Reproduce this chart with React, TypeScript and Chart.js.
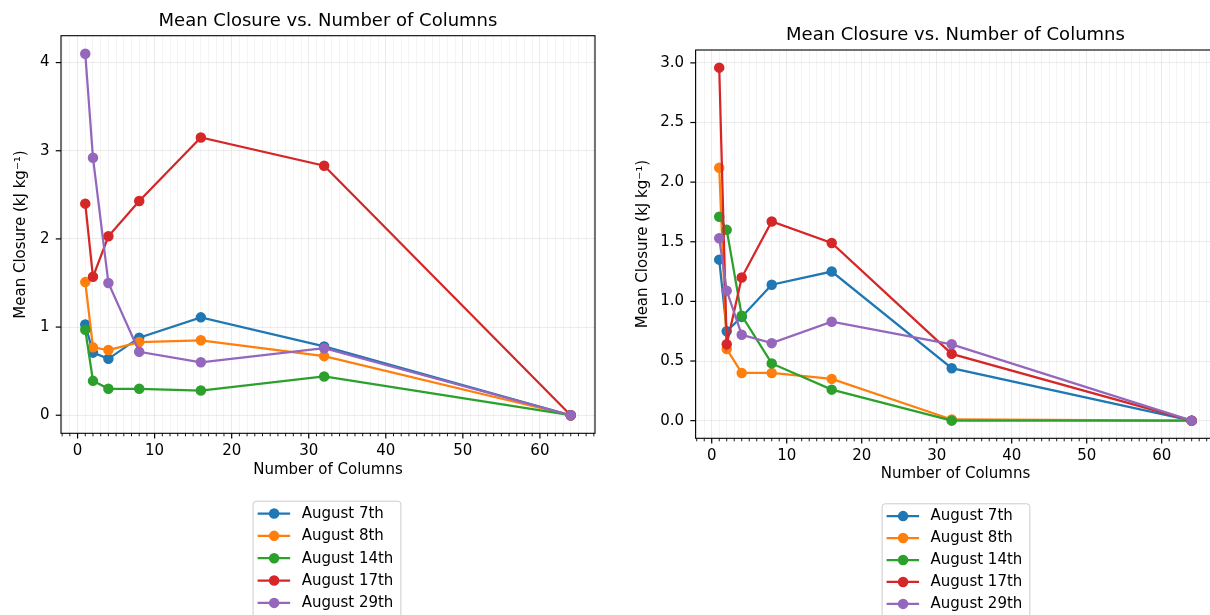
import React, { useEffect, useRef } from "react";
import { Chart, registerables } from "chart.js";

Chart.register(...registerables);

// ---------------- data ----------------
const columns = [1, 2, 4, 8, 16, 32, 64];
const seriesLabels = ["August 7th", "August 8th", "August 14th", "August 17th", "August 29th"];
const seriesColors = ["#1f77b4", "#ff7f0e", "#2ca02c", "#d62728", "#9467bd"];

// left panel
const leftAug7 = [1.03, 0.71, 0.64, 0.88, 1.11, 0.78, 0.0];
const leftAug8 = [1.51, 0.77, 0.74, 0.83, 0.85, 0.67, 0.0];
const leftAug14 = [0.97, 0.39, 0.3, 0.3, 0.28, 0.44, 0.0];
const leftAug17 = [2.4, 1.57, 2.03, 2.43, 3.15, 2.83, 0.0];
const leftAug29 = [4.1, 2.92, 1.5, 0.72, 0.6, 0.76, 0.0];

// right panel
const rightAug7 = [1.35, 0.75, 0.87, 1.14, 1.25, 0.44, 0.0];
const rightAug8 = [2.12, 0.6, 0.4, 0.4, 0.35, 0.01, 0.0];
const rightAug14 = [1.71, 1.6, 0.88, 0.48, 0.26, 0.0, 0.0];
const rightAug17 = [2.96, 0.64, 1.2, 1.67, 1.49, 0.56, 0.0];
const rightAug29 = [1.53, 1.09, 0.72, 0.65, 0.83, 0.64, 0.0];

const titleText = "Mean Closure vs. Number of Columns";
const xLabel = "Number of Columns";
const yLabel = "Mean Closure (kJ kg\u207B\u00B9)";

const leftYStep = 1;
const leftYDecimals = 0;
const rightYStep = 0.5;
const rightYDecimals = 1;
const xMajorStep = 10;
const xMinorStep = 1;

// ---------------- styling ----------------
const FONT = "'DejaVu Sans', 'Noto Sans', sans-serif";
const FS_TITLE = 18;
const FS = 15;
const LINE_W = 2.25;
const PT_R = 4.5;
const PT_BORDER = 1.5;
const GRID_MAJOR = "rgba(176,176,176,0.32)";
const GRID_MINOR = "rgba(176,176,176,0.18)";
const CANVAS_H = 615;

interface PanelLayout {
  canvasLeft: number;
  canvasWidth: number;
  area: { left: number; top: number; right: number; bottom: number };
  titleCenterY: number;
  xLabelCenterY: number;
  yLabelCenterX: number;
  legendTop: number;
  legendDx: number;
  legendRow: number;
}

const leftLayout: PanelLayout = {
  canvasLeft: 0,
  canvasWidth: 610,
  area: { left: 61, top: 35.7, right: 595, bottom: 433.3 },
  titleCenterY: 21,
  xLabelCenterY: 470.5,
  yLabelCenterX: 21,
  legendTop: 500.7,
  legendDx: -1.5,
  legendRow: 22.35,
};

const rightLayout: PanelLayout = {
  canvasLeft: 610,
  canvasWidth: 620,
  area: { left: 85.6, top: 50, right: 605.3, bottom: 438.3 },
  titleCenterY: 35.5,
  xLabelCenterY: 474.5,
  yLabelCenterX: 33,
  legendTop: 503.3,
  legendDx: 0,
  legendRow: 21.95,
};

function autoRange(vals: number[]): [number, number] {
  const mn = Math.min(...vals);
  const mx = Math.max(...vals);
  const m = (mx - mn) * 0.05;
  return [mn - m, mx + m];
}

const decorPlugin = {
  id: "mplDecor",
  afterDatasetsDraw(chart: any) {
    const { ctx, chartArea: a } = chart;
    const xs = chart.scales.x;
    const ys = chart.scales.y;
    ctx.save();
    // spines
    ctx.strokeStyle = "#000";
    ctx.lineWidth = 1.1;
    ctx.strokeRect(a.left, a.top, a.right - a.left, a.bottom - a.top);
    // x ticks
    xs.ticks.forEach((t: any) => {
      const px = xs.getPixelForValue(t.value);
      if (px < a.left - 0.5 || px > a.right + 0.5) return;
      const major = Math.round(t.value) % xMajorStep === 0;
      ctx.lineWidth = major ? 1.2 : 0.9;
      ctx.beginPath();
      ctx.moveTo(px, a.bottom);
      ctx.lineTo(px, a.bottom + (major ? 5.25 : 3));
      ctx.stroke();
    });
    // y ticks
    ys.ticks.forEach((t: any) => {
      const py = ys.getPixelForValue(t.value);
      if (py < a.top - 0.5 || py > a.bottom + 0.5) return;
      ctx.lineWidth = 1.2;
      ctx.beginPath();
      ctx.moveTo(a.left, py);
      ctx.lineTo(a.left - 5.25, py);
      ctx.stroke();
    });
    ctx.restore();
  },
  afterDraw(chart: any) {
    const opts = chart.options.plugins.mplDecor || {};
    const { ctx, chartArea: a } = chart;
    const ds = chart.data.datasets;
    ctx.save();
    ctx.font = `${FS}px ${FONT}`;
    const maxW = Math.max(...ds.map((d: any) => ctx.measureText(d.label).width));
    const boxW = maxW + 56;
    const cx = (a.left + a.right) / 2 + (opts.legendDx || 0);
    const x0 = cx - boxW / 2;
    const y0 = opts.legendTop;
    const row = opts.legendRow;
    const boxH = 12.8 * 2 + row * (ds.length - 1) + 4;
    // frame
    ctx.fillStyle = "rgba(255,255,255,0.8)";
    ctx.strokeStyle = "#cccccc";
    ctx.lineWidth = 1;
    ctx.beginPath();
    (ctx as any).roundRect(x0 + 0.5, y0 + 0.5, boxW, boxH, 3);
    ctx.fill();
    ctx.stroke();
    ds.forEach((d: any, i: number) => {
      const y = y0 + 12.8 + row * i;
      ctx.strokeStyle = d.borderColor;
      ctx.lineWidth = LINE_W;
      ctx.beginPath();
      ctx.moveTo(x0 + 5, y);
      ctx.lineTo(x0 + 37.5, y);
      ctx.stroke();
      ctx.fillStyle = d.borderColor;
      ctx.lineWidth = PT_BORDER;
      ctx.beginPath();
      ctx.arc(x0 + 21.5, y, PT_R, 0, Math.PI * 2);
      ctx.fill();
      ctx.stroke();
      ctx.fillStyle = "#000";
      ctx.textAlign = "left";
      ctx.textBaseline = "middle";
      ctx.fillText(d.label, x0 + 49, y + 0.5);
    });
    ctx.restore();
  },
};

function buildConfig(series: number[][], yStep: number, yDec: number, L: PanelLayout): any {
  const [xMin, xMax] = autoRange(columns);
  const [yMin, yMax] = autoRange(series.flat());
  const xAxisH = 50;
  const lhTitle = FS_TITLE * 1.2;
  const lh = FS * 1.2;
  const n = series.length;
  return {
    type: "line",
    data: {
      datasets: series.map((vals, i) => ({
        label: seriesLabels[i],
        data: columns.map((x, j) => ({ x, y: vals[j] })),
        borderColor: seriesColors[i],
        backgroundColor: seriesColors[i],
        pointBackgroundColor: seriesColors[i],
        pointBorderColor: seriesColors[i],
        borderWidth: LINE_W,
        pointRadius: PT_R,
        pointHoverRadius: PT_R,
        pointBorderWidth: PT_BORDER,
        tension: 0,
        fill: false,
        order: n - 1 - i,
      })),
    },
    options: {
      animation: false,
      responsive: false,
      maintainAspectRatio: false,
      devicePixelRatio: 1,
      events: [],
      layout: {
        padding: {
          left: 0,
          top: 0,
          right: L.canvasWidth - L.area.right,
          bottom: CANVAS_H - L.area.bottom - xAxisH,
        },
      },
      plugins: {
        legend: { display: false },
        tooltip: { enabled: false },
        title: {
          display: true,
          text: titleText,
          fullSize: false,
          color: "#000",
          font: { family: FONT, size: FS_TITLE, weight: "normal" },
          padding: {
            top: L.titleCenterY - lhTitle / 2,
            bottom: L.area.top - L.titleCenterY - lhTitle / 2,
          },
        },
        mplDecor: { legendTop: L.legendTop, legendDx: L.legendDx, legendRow: L.legendRow },
      },
      scales: {
        x: {
          type: "linear",
          min: xMin,
          max: xMax,
          afterFit: (s: any) => {
            s.height = xAxisH;
          },
          border: { display: false },
          grid: {
            color: (c: any) =>
              c.tick && Math.round(c.tick.value) % xMajorStep === 0 ? GRID_MAJOR : GRID_MINOR,
            lineWidth: 0.8,
            drawTicks: false,
          },
          ticks: {
            stepSize: xMinorStep,
            autoSkip: false,
            includeBounds: false,
            maxRotation: 0,
            minRotation: 0,
            padding: 8.8,
            color: "#000",
            font: { family: FONT, size: FS },
            callback: (v: number) => (Math.round(v) % xMajorStep === 0 ? String(Math.round(v)) : ""),
          },
          title: {
            display: true,
            text: xLabel,
            color: "#000",
            font: { family: FONT, size: FS },
            padding: { top: 0, bottom: L.area.bottom + xAxisH - L.xLabelCenterY - lh / 2 },
          },
        },
        y: {
          type: "linear",
          min: yMin,
          max: yMax,
          afterFit: (s: any) => {
            s.width = L.area.left;
          },
          border: { display: false },
          grid: { color: GRID_MAJOR, lineWidth: 0.8, drawTicks: false },
          ticks: {
            stepSize: yStep,
            includeBounds: false,
            autoSkip: false,
            padding: 11.5,
            color: "#000",
            font: { family: FONT, size: FS },
            callback: (v: number) => Number(v).toFixed(yDec),
          },
          title: {
            display: true,
            text: yLabel,
            color: "#000",
            font: { family: FONT, size: FS },
            padding: { top: L.yLabelCenterX - lh / 2, bottom: 0 },
          },
        },
      },
    },
    plugins: [decorPlugin],
  };
}

function Panel({ series, yStep, yDec, layout }: { series: number[][]; yStep: number; yDec: number; layout: PanelLayout }) {
  const ref = useRef<HTMLCanvasElement | null>(null);
  useEffect(() => {
    if (!ref.current) return;
    const chart = new Chart(ref.current, buildConfig(series, yStep, yDec, layout));
    return () => chart.destroy();
  }, []);
  return (
    <canvas
      ref={ref}
      width={layout.canvasWidth}
      height={CANVAS_H}
      style={{
        position: "absolute",
        left: layout.canvasLeft,
        top: 0,
        width: layout.canvasWidth,
        height: CANVAS_H,
      }}
    />
  );
}

export default function App() {
  const leftSeries = [leftAug7, leftAug8, leftAug14, leftAug17, leftAug29];
  const rightSeries = [rightAug7, rightAug8, rightAug14, rightAug17, rightAug29];
  return (
    <div
      style={{
        position: "fixed",
        left: 0,
        top: 0,
        width: 1210,
        height: 615,
        overflow: "hidden",
        background: "#fff",
      }}
    >
      <Panel series={leftSeries} yStep={leftYStep} yDec={leftYDecimals} layout={leftLayout} />
      <Panel series={rightSeries} yStep={rightYStep} yDec={rightYDecimals} layout={rightLayout} />
    </div>
  );
}
